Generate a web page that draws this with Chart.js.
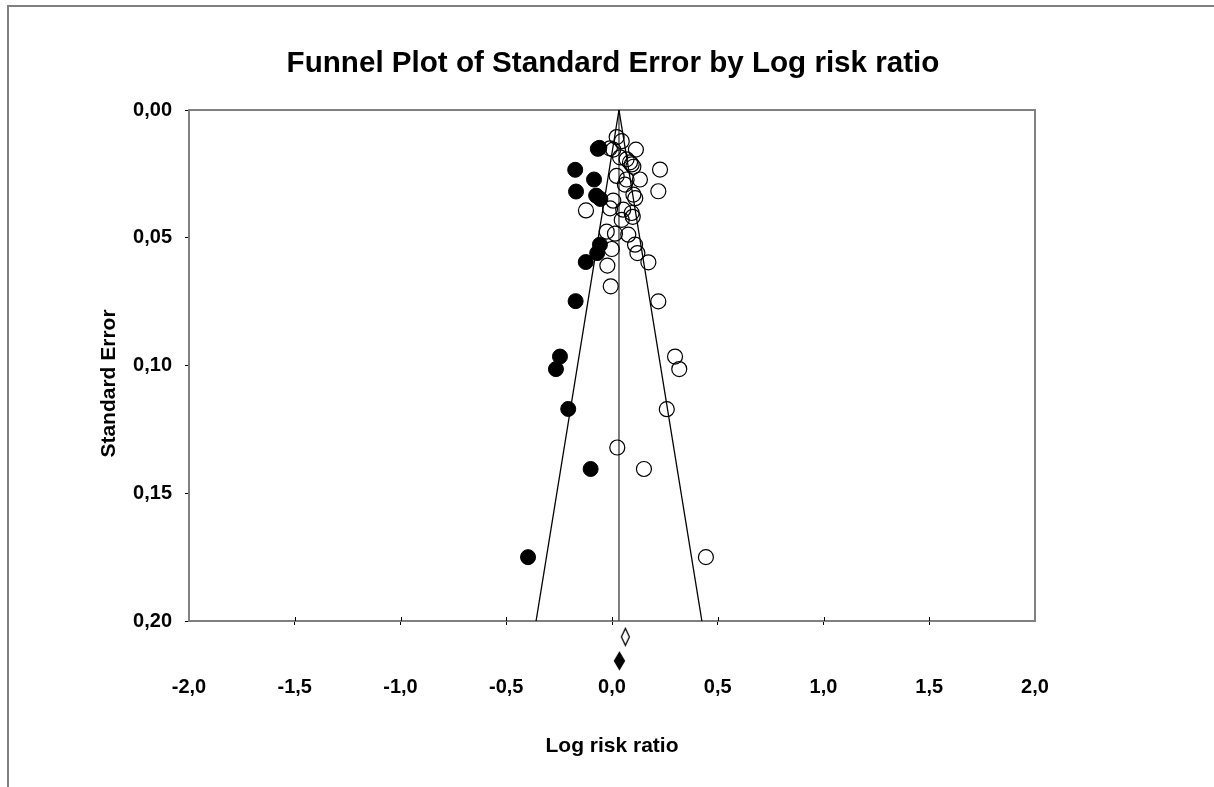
<!DOCTYPE html>
<html>
<head>
<meta charset="utf-8">
<script src="https://cdn.jsdelivr.net/npm/chart.js@4"></script>
<style>
  html, body { margin: 0; padding: 0; background: #fff; }
  #wrap { position: relative; width: 1214px; height: 787px; overflow: hidden; }
  #frame { position: absolute; left: 7px; top: 5px; width: 1300px; height: 900px;
           border-left: 2px solid #808080; border-top: 2px solid #808080; }
  #c { position: absolute; left: 0; top: 0; }
</style>
</head>
<body>
<div id="wrap">
  <div id="frame"></div>
  <canvas id="c" width="1214" height="787"></canvas>
</div>
<script>
// ---- data ----
const titleText = 'Funnel Plot of Standard Error by Log risk ratio';
const xTitle = 'Log risk ratio';
const yTitle = 'Standard Error';

// observed studies (open circles)
const observedLRR = [0.022, 0.046, 0.006, -0.010, 0.113, 0.038, 0.069, 0.085, 0.093, 0.101,
  0.227, 0.022, 0.069, 0.132, 0.061, 0.219, 0.101, 0.110, 0.006, -0.123,
  -0.009, 0.053, 0.093, 0.098, 0.046, -0.025, 0.014, 0.077, 0.109, 0.120,
  -0.001, 0.172, -0.022, -0.006, 0.219, 0.298, 0.318, 0.259, 0.025, 0.151, 0.444];
const observedSE = [0.0106, 0.0122, 0.0155, 0.0150, 0.0155, 0.0185, 0.0193, 0.0205, 0.0213, 0.0222,
  0.0233, 0.0258, 0.0272, 0.0272, 0.0292, 0.0318, 0.0331, 0.0345, 0.0355, 0.0393,
  0.0385, 0.0390, 0.0403, 0.0418, 0.0430, 0.0476, 0.0484, 0.0488, 0.0527, 0.0560,
  0.0544, 0.0596, 0.0609, 0.0690, 0.0749, 0.0965, 0.1014, 0.1171, 0.1321, 0.1405, 0.1750];

// imputed studies (filled circles)
const imputedLRR = [-0.067, -0.060, -0.174, -0.085, -0.170, -0.075, -0.055, -0.057, -0.070, -0.124,
  -0.172, -0.246, -0.265, -0.207, -0.101, -0.397];
const imputedSE = [0.0152, 0.0148, 0.0234, 0.0272, 0.0319, 0.0335, 0.0348, 0.0527, 0.0560, 0.0595,
  0.0748, 0.0965, 0.1014, 0.1170, 0.1405, 0.1750];

// summary estimates (diamonds, drawn below the axis)
const observedSummary = { lrr: 0.063, se: 0.2062 };
const adjustedSummary = { lrr: 0.035, se: 0.2156 };

// funnel
const funnelCenter = 0.033;
const funnelBottomLeft = -0.359;
const funnelBottomRight = 0.425;
const seMin = 0.0, seMax = 0.20;

const xMin = -2.0, xMax = 2.0, xStep = 0.5;
const yStep = 0.05;

// ---- helpers ----
function pts(xs, ys) { return xs.map((x, i) => ({ x: x, y: ys[i] })); }
function diamond(w, h, fill) {
  const c = document.createElement('canvas');
  c.width = w + 3; c.height = h + 3;
  const g = c.getContext('2d');
  const cx = c.width / 2, cy = c.height / 2;
  g.beginPath();
  g.moveTo(cx, 1.5);
  g.lineTo(cx + w / 2, cy);
  g.lineTo(cx, c.height - 1.5);
  g.lineTo(cx - w / 2, cy);
  g.closePath();
  g.fillStyle = fill; g.fill();
  g.strokeStyle = '#000'; g.lineWidth = 1.3; g.stroke();
  return c;
}
const comma = (v, d) => v.toFixed(d).replace('.', ',');
const FONT = 'Liberation Sans, Arial, sans-serif';

const boxPlugin = {
  id: 'box',
  afterLayout(chart) {
    // the reference places the y-axis title a little below the axis centre
    const s = chart.scales.y;
    if (s && !s._shiftedTitle) {
      const orig = s.drawTitle.bind(s);
      s.drawTitle = function () {
        chart.ctx.save();
        chart.ctx.translate(0, 18);
        orig();
        chart.ctx.restore();
      };
      s._shiftedTitle = true;
    }
  },
  beforeDatasetsDraw(chart) {
    const { ctx, chartArea: a } = chart;
    ctx.save();
    ctx.strokeStyle = '#808080';
    ctx.lineWidth = 2;
    ctx.strokeRect(a.left, a.top, a.right - a.left, a.bottom - a.top);
    // inner halves of the x tick marks
    const xs = chart.scales.x;
    ctx.strokeStyle = '#000';
    ctx.lineWidth = 1;
    xs.ticks.forEach((t, i) => {
      if (t.value <= xMin || t.value >= xMax) return;
      const px = Math.round(xs.getPixelForTick(i)) + 0.5;
      ctx.beginPath();
      ctx.moveTo(px, a.bottom);
      ctx.lineTo(px, a.bottom - 4);
      ctx.stroke();
    });
    ctx.restore();
  }
};

new Chart(document.getElementById('c'), {
  type: 'scatter',
  data: {
    datasets: [
      {
        label: 'Imputed',
        data: pts(imputedLRR, imputedSE),
        pointRadius: 7.5, pointHoverRadius: 7.5,
        backgroundColor: '#000', borderColor: '#000', borderWidth: 1,
      },
      {
        label: 'Observed',
        data: pts(observedLRR, observedSE),
        pointRadius: 7.5, pointHoverRadius: 7.5,
        backgroundColor: 'rgba(0,0,0,0)', borderColor: '#000', borderWidth: 1.2,
      },
      {
        label: 'Observed summary',
        data: [{ x: observedSummary.lrr, y: observedSummary.se }],
        pointStyle: diamond(8, 17, '#fff'),
        pointRadius: 60, pointHoverRadius: 60, borderWidth: 0,
        clip: false,
      },
      {
        label: 'Adjusted summary',
        data: [{ x: adjustedSummary.lrr, y: adjustedSummary.se }],
        pointStyle: diamond(10, 17, '#000'),
        pointRadius: 60, pointHoverRadius: 60, borderWidth: 0,
        clip: false,
      },
      {
        label: 'Funnel left',
        data: [{ x: funnelCenter, y: seMin }, { x: funnelBottomLeft, y: seMax }],
        showLine: true, pointRadius: 0, borderColor: '#000', borderWidth: 1.3,
      },
      {
        label: 'Funnel right',
        data: [{ x: funnelCenter, y: seMin }, { x: funnelBottomRight, y: seMax }],
        showLine: true, pointRadius: 0, borderColor: '#000', borderWidth: 1.3,
      },
      {
        label: 'Mean',
        data: [{ x: funnelCenter, y: seMin }, { x: funnelCenter, y: seMax }],
        showLine: true, pointRadius: 0, borderColor: '#555', borderWidth: 1.5,
      }
    ]
  },
  options: {
    responsive: false,
    animation: false,
    events: [],
    layout: { padding: { left: 12, right: 0, top: 0, bottom: 0 } },
    plugins: {
      legend: { display: false },
      tooltip: { enabled: false },
      title: {
        display: true, text: titleText, color: '#000',
        font: { family: FONT, size: 29.6, weight: 'bold' },
        padding: { top: 46, bottom: 28.5 }
      }
    },
    scales: {
      x: {
        type: 'linear', min: xMin, max: xMax,
        ticks: {
          stepSize: xStep, color: '#000', padding: 50,
          font: { family: FONT, size: 20, weight: 'bold' },
          callback: v => comma(v, 1)
        },
        grid: {
          drawOnChartArea: false, drawTicks: true, tickLength: 4,
          color: c => (c.tick && (c.tick.value <= xMin || c.tick.value >= xMax)) ? 'rgba(0,0,0,0)' : '#000'
        },
        border: { color: '#808080', width: 2 },
        title: {
          display: true, text: xTitle, color: '#000',
          font: { family: FONT, size: 21, weight: 'bold' },
          padding: { top: 0, bottom: 28 }
        },
        afterFit: s => { s.height = 166; }
      },
      y: {
        type: 'linear', min: seMin, max: seMax, reverse: true,
        ticks: {
          stepSize: yStep, color: '#000', padding: 13,
          font: { family: FONT, size: 20, weight: 'bold' },
          callback: v => comma(v, 2)
        },
        grid: {
          drawOnChartArea: false, drawTicks: true, tickLength: 4,
          color: '#000'
        },
        border: { color: '#808080', width: 2 },
        title: {
          display: true, text: yTitle, color: '#000',
          font: { family: FONT, size: 21, weight: 'bold' },
          padding: { top: 85, bottom: 0 }
        },
        afterFit: s => { s.width = 177; }
      },
      yRight: {
        type: 'linear', position: 'right', min: 0, max: 1,
        ticks: { display: false },
        grid: { display: false, drawTicks: false },
        border: { display: false },
        afterFit: s => { s.width = 179; }
      }
    }
  },
  plugins: [boxPlugin]
});
</script>
</body>
</html>
